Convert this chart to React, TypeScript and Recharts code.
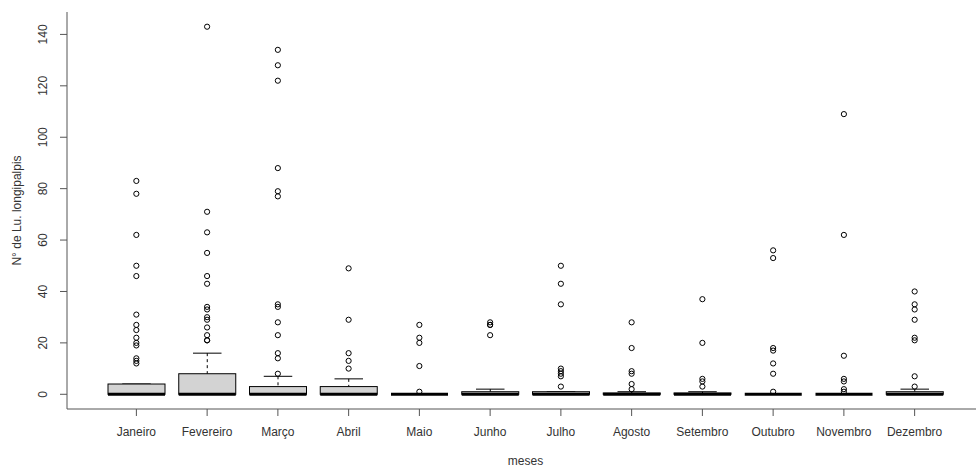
import { ComposedChart, Bar, Scatter, XAxis, YAxis, Label } from "recharts"

const meses = ["Janeiro", "Fevereiro", "Março", "Abril", "Maio", "Junho", "Julho", "Agosto", "Setembro", "Outubro", "Novembro", "Dezembro"]
const bigodeInf = [0, 0, 0, 0, 0, 0, 0, 0, 0, 0, 0, 0]
const q1 = [0, 0, 0, 0, 0, 0, 0, 0, 0, 0, 0, 0]
const mediana = [0, 0, 0, 0, 0, 0, 0, 0, 0, 0, 0, 0]
const q3 = [4, 8, 3, 3, 0, 1, 1, 0.5, 0.5, 0, 0, 1]
const bigodeSup = [4, 16, 7, 6, 0, 2, 1, 1, 1, 0, 0, 2]
const outliers = [
  [83, 78, 62, 50, 46, 31, 27, 25, 22, 20, 19, 14, 13, 12],
  [143, 71, 63, 55, 46, 43, 34, 33, 30, 29, 26, 23, 21, 21],
  [134, 128, 122, 88, 79, 77, 35, 34, 28, 23, 16, 14, 8],
  [49, 29, 16, 13, 10],
  [27, 22, 20, 11, 1],
  [28, 27, 27, 23],
  [50, 43, 35, 10, 9, 8, 7, 3],
  [28, 18, 9, 8, 4, 2],
  [37, 20, 6, 5, 3],
  [56, 53, 18, 17, 12, 8, 1],
  [109, 62, 15, 6, 5, 2, 1],
  [40, 35, 33, 29, 22, 21, 7, 3],
]
const yTicks = [0, 20, 40, 60, 80, 100, 120, 140]

const fonte = "'Liberation Sans', Arial, sans-serif"

const dados = meses.map((mes, i) => ({
  mes,
  caixa: [q1[i], q3[i]],
  med: [mediana[i], mediana[i]],
  sup: [q3[i], bigodeSup[i]],
  inf: [bigodeInf[i], q1[i]],
}))

const pontos = outliers.flatMap((vals, i) => vals.map((v) => ({ pos: i + 1, v })))

function norm(p: any) {
  const h = p.height || 0
  const top = h < 0 ? p.y + h : p.y
  return { x: p.x, w: p.width, top, bottom: top + Math.abs(h) }
}

function Caixa(p: any) {
  const r = norm(p)
  return <rect x={r.x} y={r.top} width={r.w} height={r.bottom - r.top} fill="#d3d3d3" stroke="#000" strokeWidth={1} />
}

function Mediana(p: any) {
  const r = norm(p)
  return <line x1={r.x} x2={r.x + r.w} y1={r.top} y2={r.top} stroke="#000" strokeWidth={3} />
}

function BigodeSup(p: any) {
  const r = norm(p)
  const cx = r.x + r.w / 2
  return (
    <g>
      {r.bottom - r.top > 0 && <line x1={cx} x2={cx} y1={r.top} y2={r.bottom} stroke="#000" strokeDasharray="3 3" />}
      <line x1={cx - r.w / 4} x2={cx + r.w / 4} y1={r.top} y2={r.top} stroke="#000" />
    </g>
  )
}

function BigodeInf(p: any) {
  const r = norm(p)
  const cx = r.x + r.w / 2
  return (
    <g>
      {r.bottom - r.top > 0 && <line x1={cx} x2={cx} y1={r.top} y2={r.bottom} stroke="#000" strokeDasharray="3 3" />}
      <line x1={cx - r.w / 4} x2={cx + r.w / 4} y1={r.bottom} y2={r.bottom} stroke="#000" />
    </g>
  )
}

function Ponto(p: any) {
  return <circle cx={p.cx} cy={p.cy} r={2.6} fill="none" stroke="#000" strokeWidth={1} />
}

function TickY(p: any) {
  return (
    <text transform={`translate(${p.x - 11},${p.y}) rotate(-90)`} textAnchor="middle" fontSize={12} fill="#333" fontFamily={fonte}>
      {p.payload.value}
    </text>
  )
}

export default function App() {
  return (
    <div style={{ position: "fixed", left: 0, top: 0, width: 976, height: 468, overflow: "hidden", background: "#fff" }}>
      <ComposedChart width={1000} height={468} data={dados} margin={{ top: 12, right: 16, bottom: 29, left: 0 }} barGap={-57}>
        <XAxis
          xAxisId="cat"
          dataKey="mes"
          padding={{ left: 34, right: 34 }}
          interval={0}
          height={30}
          tickSize={7}
          tickMargin={11}
          stroke="#555"
          tick={{ fontSize: 12, fill: "#333", fontFamily: fonte }}
        >
          <Label
            content={({ viewBox }: any) => (
              <text x={viewBox.x + viewBox.width / 2} y={461} textAnchor="middle" dominantBaseline="central" fontSize={12} fill="#333" fontFamily={fonte}>
                meses
              </text>
            )}
          />
        </XAxis>
        <XAxis xAxisId="topo" dataKey="mes" orientation="top" height={0} tick={false} tickLine={false} stroke="#555" />
        <XAxis xAxisId="num" dataKey="pos" type="number" domain={[0.02, 12.98]} allowDataOverflow hide />
        <YAxis
          type="number"
          domain={[-5.72, 148.72]}
          allowDataOverflow
          ticks={yTicks}
          width={67}
          tickSize={7}
          stroke="#555"
          tick={<TickY />}
        >
          <Label
            content={({ viewBox }: any) => (
              <text
                transform={`translate(21,${viewBox.y + viewBox.height / 2}) rotate(-90)`}
                textAnchor="middle"
                fontSize={12}
                fill="#333"
                fontFamily={fonte}
              >
                N° de Lu. longipalpis
              </text>
            )}
          />
        </YAxis>
        <Bar xAxisId="cat" dataKey="sup" barSize={57} shape={<BigodeSup />} isAnimationActive={false} />
        <Bar xAxisId="cat" dataKey="inf" barSize={57} shape={<BigodeInf />} isAnimationActive={false} />
        <Bar xAxisId="cat" dataKey="caixa" barSize={57} shape={<Caixa />} isAnimationActive={false} />
        <Bar xAxisId="cat" dataKey="med" barSize={57} shape={<Mediana />} isAnimationActive={false} />
        <Scatter xAxisId="num" data={pontos} dataKey="v" shape={<Ponto />} isAnimationActive={false} />
      </ComposedChart>
    </div>
  )
}
